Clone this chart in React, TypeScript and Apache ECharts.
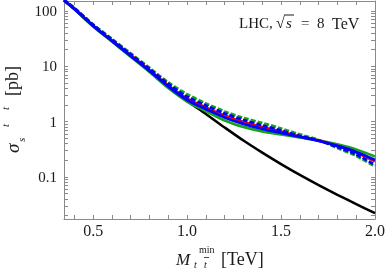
import React, { useEffect, useRef } from "react";
import * as echarts from "echarts";

const xValues = [0.345, 0.4, 0.5, 0.6, 0.7, 0.8, 0.9, 1.0, 1.1, 1.2, 1.3, 1.4, 1.5, 1.6, 1.7, 1.8, 1.9, 2.0];
const blackSM = [155.5, 109.1, 53.8, 28.8, 15.42, 8.26, 4.24, 2.37, 1.378, 0.785, 0.455, 0.275, 0.171, 0.109, 0.0714, 0.0477, 0.0324, 0.0222];
const greenDashed = [158.7, 113.8, 57.3, 31.3, 17.12, 9.36, 5.12, 3.13, 2.13, 1.529, 1.166, 0.947, 0.753, 0.587, 0.467, 0.3345, 0.2398, 0.1548];
const blueDashed = [158.7, 112.4, 56.1, 30.3, 16.41, 8.97, 4.81, 2.83, 1.963, 1.407, 1.073, 0.854, 0.693, 0.551, 0.457, 0.3487, 0.2552, 0.1648];
const redSolid = [156.8, 111.0, 54.9, 29.6, 16.07, 8.61, 4.55, 2.63, 1.806, 1.295, 0.988, 0.802, 0.665, 0.54, 0.457, 0.3636, 0.2773, 0.1906];
const blueSolid = [155.5, 109.1, 53.8, 28.8, 15.42, 8.26, 4.33, 2.47, 1.697, 1.191, 0.909, 0.738, 0.625, 0.529, 0.448, 0.3636, 0.2832, 0.2029];
const greenSolid = [153.6, 107.8, 52.7, 28.2, 14.92, 7.92, 4.07, 2.32, 1.561, 1.051, 0.802, 0.665, 0.587, 0.518, 0.457, 0.387, 0.3142, 0.2348];

const xLabelValues = [0.5, 1.0, 1.5, 2.0];
const xTickValues = [0.4, 0.5, 0.6, 0.7, 0.8, 0.9, 1.0, 1.1, 1.2, 1.3, 1.4, 1.5, 1.6, 1.7, 1.8, 1.9];
const yLabelValues = [0.1, 1, 10, 100];
const yTickValues = [0.02, 0.03, 0.04, 0.05, 0.06, 0.07, 0.08, 0.09, 0.1, 0.2, 0.3, 0.4, 0.5, 0.6, 0.7, 0.8, 0.9, 1, 2, 3, 4, 5, 6, 7, 8, 9, 10, 20, 30, 40, 50, 60, 70, 80, 90, 100];

const X_MIN = 0.345;
const X_MAX = 2.0;
const Y_MIN = 0.0174;
const Y_MAX = 151.7;

const FONT = "'Liberation Serif', 'DejaVu Serif', serif";
const GREEN = "#1aa31a";
const FRAME = "#8a8a8a";
const TEXT = "#1a1a1a";

function zip(ys: number[]) {
  return xValues.map((x, i) => [x, ys[i]]);
}

export default function App() {
  const ref = useRef<HTMLDivElement>(null);
  useEffect(() => {
    if (!ref.current) return;
    const chart = echarts.init(ref.current, undefined, { renderer: "svg" });
    const xAxisBase = (position: string, labels: boolean) => ({
      type: "value",
      position,
      min: X_MIN,
      max: X_MAX,
      axisLine: { show: true, onZero: false, lineStyle: { color: FRAME, width: 1 } },
      axisTick: { show: true, inside: true, length: 4, customValues: xTickValues, lineStyle: { color: FRAME, width: 1 } },
      axisLabel: labels
        ? {
            show: true,
            customValues: xLabelValues,
            formatter: (v: number) => v.toFixed(1),
            fontFamily: FONT,
            fontSize: 16,
            color: TEXT,
            margin: 3,
          }
        : { show: false },
      splitLine: { show: false },
    });
    const yAxisBase = (position: string, labels: boolean) => ({
      type: "log",
      logBase: 10,
      position,
      min: Y_MIN,
      max: Y_MAX,
      axisLine: { show: true, onZero: false, lineStyle: { color: FRAME, width: 1 } },
      axisTick: { show: true, inside: true, length: 4, customValues: yTickValues, lineStyle: { color: FRAME, width: 1 } },
      axisLabel: labels
        ? {
            show: true,
            customValues: yLabelValues,
            formatter: (v: number) => (v < 1 ? String(Math.round(v * 10) / 10) : String(Math.round(v))),
            fontFamily: FONT,
            fontSize: 15,
            color: TEXT,
            margin: 7,
          }
        : { show: false },
      splitLine: { show: false },
    });
    const line = (name: string, data: number[], color: string, dashed: boolean, width: number, z: number) => ({
      name,
      type: "line",
      data: zip(data),
      smooth: 0.3,
      showSymbol: false,
      symbol: "none",
      z,
      lineStyle: { color, width, type: dashed ? [5, 2] : "solid" },
    });
    const italic = (text: string, x: number, y: number, size: number) => ({
      type: "text",
      x,
      y,
      style: { text, fontFamily: FONT, fontStyle: "italic", fontSize: size, fill: TEXT, align: "left", verticalAlign: "middle" },
    });
    const roman = (text: string, x: number, y: number, size: number) => ({
      type: "text",
      x,
      y,
      style: { text, fontFamily: FONT, fontSize: size, fill: TEXT, align: "left", verticalAlign: "middle" },
    });
    chart.setOption({
      animation: false,
      grid: { left: 64, right: 11, top: 1, bottom: 54, containLabel: false },
      xAxis: [xAxisBase("bottom", true), xAxisBase("top", false)],
      yAxis: [yAxisBase("left", true), yAxisBase("right", false)],
      series: [
        line("SM", blackSM, "#000000", false, 2.5, 1),
        line("green solid", greenSolid, GREEN, false, 2.8, 2),
        line("green dashed", greenDashed, GREEN, true, 2.8, 3),
        line("red", redSolid, "#ff0000", false, 2.5, 4),
        line("blue solid", blueSolid, "#0000ff", false, 2.8, 5),
        line("blue dashed", blueDashed, "#0000ff", true, 2.8, 6),
      ],
      graphic: [
        roman("LHC,", 239, 23, 15),
        roman("\u221A", 276, 22, 16),
        italic("s", 286, 23, 15),
        { type: "line", shape: { x1: 284, y1: 15, x2: 294, y2: 15 }, style: { stroke: TEXT, lineWidth: 1 } },
        roman("=", 301, 23, 15),
        roman("8", 317, 23, 15),
        roman("TeV", 332, 23, 16),
        italic("M", 176, 259, 17),
        roman("min", 199, 249, 10),
        italic("t", 194, 264, 10),
        italic("t", 204, 264, 10),
        { type: "line", shape: { x1: 204, y1: 257.5, x2: 209, y2: 257.5 }, style: { stroke: TEXT, lineWidth: 0.8 } },
        roman("[TeV]", 221, 259, 18),
        {
          type: "group",
          x: 17,
          y: 110,
          rotation: Math.PI / 2,
          children: [
            italic("\u03C3", -43, -5, 19),
            italic("s", -32, 4, 11),
            italic("t", -17, -12, 11),
            italic("t", 0, -12, 11),
            { type: "line", shape: { x1: 0, y1: -18, x2: 5, y2: -18 }, style: { stroke: TEXT, lineWidth: 0.8 } },
            roman("[pb]", 14, -5, 18),
          ],
        },
      ],
    });
    return () => chart.dispose();
  }, []);
  return <div ref={ref} style={{ position: "fixed", left: 0, top: 0, width: 388, height: 273 }} />;
}
